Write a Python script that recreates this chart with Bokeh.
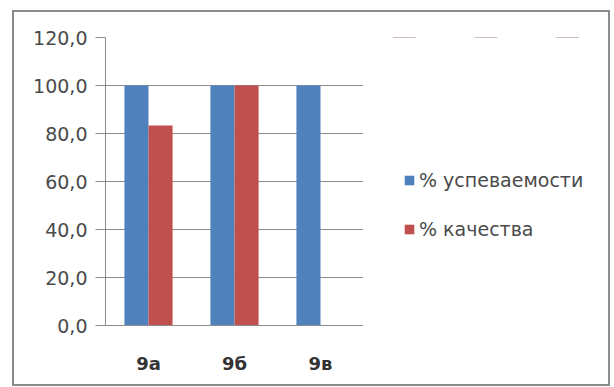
from bokeh.plotting import figure
from bokeh.layouts import row
from bokeh.models import FactorRange, Legend, LegendItem, ColumnDataSource, FixedTicker, Range1d
from bokeh.transform import dodge
from bokeh.embed import file_html
from bokeh.resources import INLINE

classes = ["9а", "9б", "9в"]
progress = [100.0, 100.0, 100.0]
quality = [83.3, 100.0, 0.0]
series_names = ["% успеваемости", "% качества"]
y_ticks = [0, 20, 40, 60, 80, 100, 120]
y_tick_labels = ["0,0", "20,0", "40,0", "60,0", "80,0", "100,0", "120,0"]

BLUE = "#4F81BD"
RED = "#C0504D"
FONT = "DejaVu Sans"

src = ColumnDataSource(dict(cls=classes, prog=progress, qual=quality))

p = figure(x_range=FactorRange(*classes, range_padding=0), y_range=(0, 120),
           width=349, height=372, output_backend="svg", toolbar_location=None,
           min_border_left=91, min_border_top=25, min_border_right=0, min_border_bottom=59)
p.outline_line_color = None

p.vbar(x=dodge("cls", -0.14, range=p.x_range), top="prog", width=0.28, source=src,
       fill_color=BLUE, line_color=None)
p.vbar(x=dodge("cls", 0.14, range=p.x_range), top="qual", width=0.28, source=src,
       fill_color=RED, line_color=None)

p.yaxis.ticker = FixedTicker(ticks=y_ticks)
p.yaxis.major_label_overrides = {t: l for t, l in zip(y_ticks, y_tick_labels)}
p.yaxis.major_label_text_font = FONT
p.yaxis.major_label_text_font_size = "19px"
p.yaxis.major_label_text_color = "#4a4a4a"
p.yaxis.axis_line_color = "#8c8c8c"
p.yaxis.major_tick_line_color = "#8c8c8c"
p.yaxis.major_tick_out = 10
p.yaxis.major_tick_in = 0
p.yaxis.minor_tick_line_color = None
p.yaxis.major_label_standoff = 8

p.xaxis.major_label_text_font = FONT
p.xaxis.major_label_text_font_style = "bold"
p.xaxis.major_label_text_font_size = "18px"
p.xaxis.major_label_text_color = "#333333"
p.xaxis.axis_line_color = "#8c8c8c"
p.xaxis.major_tick_line_color = None
p.xaxis.major_label_standoff = 21

p.xgrid.grid_line_color = None
p.ygrid.ticker = FixedTicker(ticks=y_ticks)
p.ygrid.grid_line_color = "#8c8c8c"

# legend host panel (zero-height proxy bars lie far outside its y range, so only the legend shows)
p2 = figure(width=245, height=372, x_range=FactorRange(*classes), y_range=Range1d(-2, -1),
            x_axis_type=None, y_axis_type=None, output_backend="svg", toolbar_location=None,
            min_border=0)
p2.outline_line_color = None
p2.grid.visible = False
k1 = p2.vbar(x="cls", top="prog", bottom="prog", width=0.28, source=src,
             fill_color=BLUE, line_color=None)
k2 = p2.vbar(x="cls", top="prog", bottom="prog", width=0.28, source=src,
             fill_color=RED, line_color=None)

legend = Legend(items=[LegendItem(label=series_names[0], renderers=[k1]),
                       LegendItem(label=series_names[1], renderers=[k2])],
                location=(40, 85), padding=0, margin=0, border_line_color=None,
                background_fill_alpha=0,
                glyph_width=12, glyph_height=12, label_standoff=4, spacing=27,
                label_text_font=FONT, label_text_font_size="19px",
                label_text_color="#4a4a4a", label_height=20)
p2.add_layout(legend, "center")

layout = row(p, p2, spacing=0)
layout.styles = {"border": "2px solid #8c8c8c"}
layout.margin = (10, 0, 0, 12)

open("out.html", "w").write(file_html(layout, INLINE))
